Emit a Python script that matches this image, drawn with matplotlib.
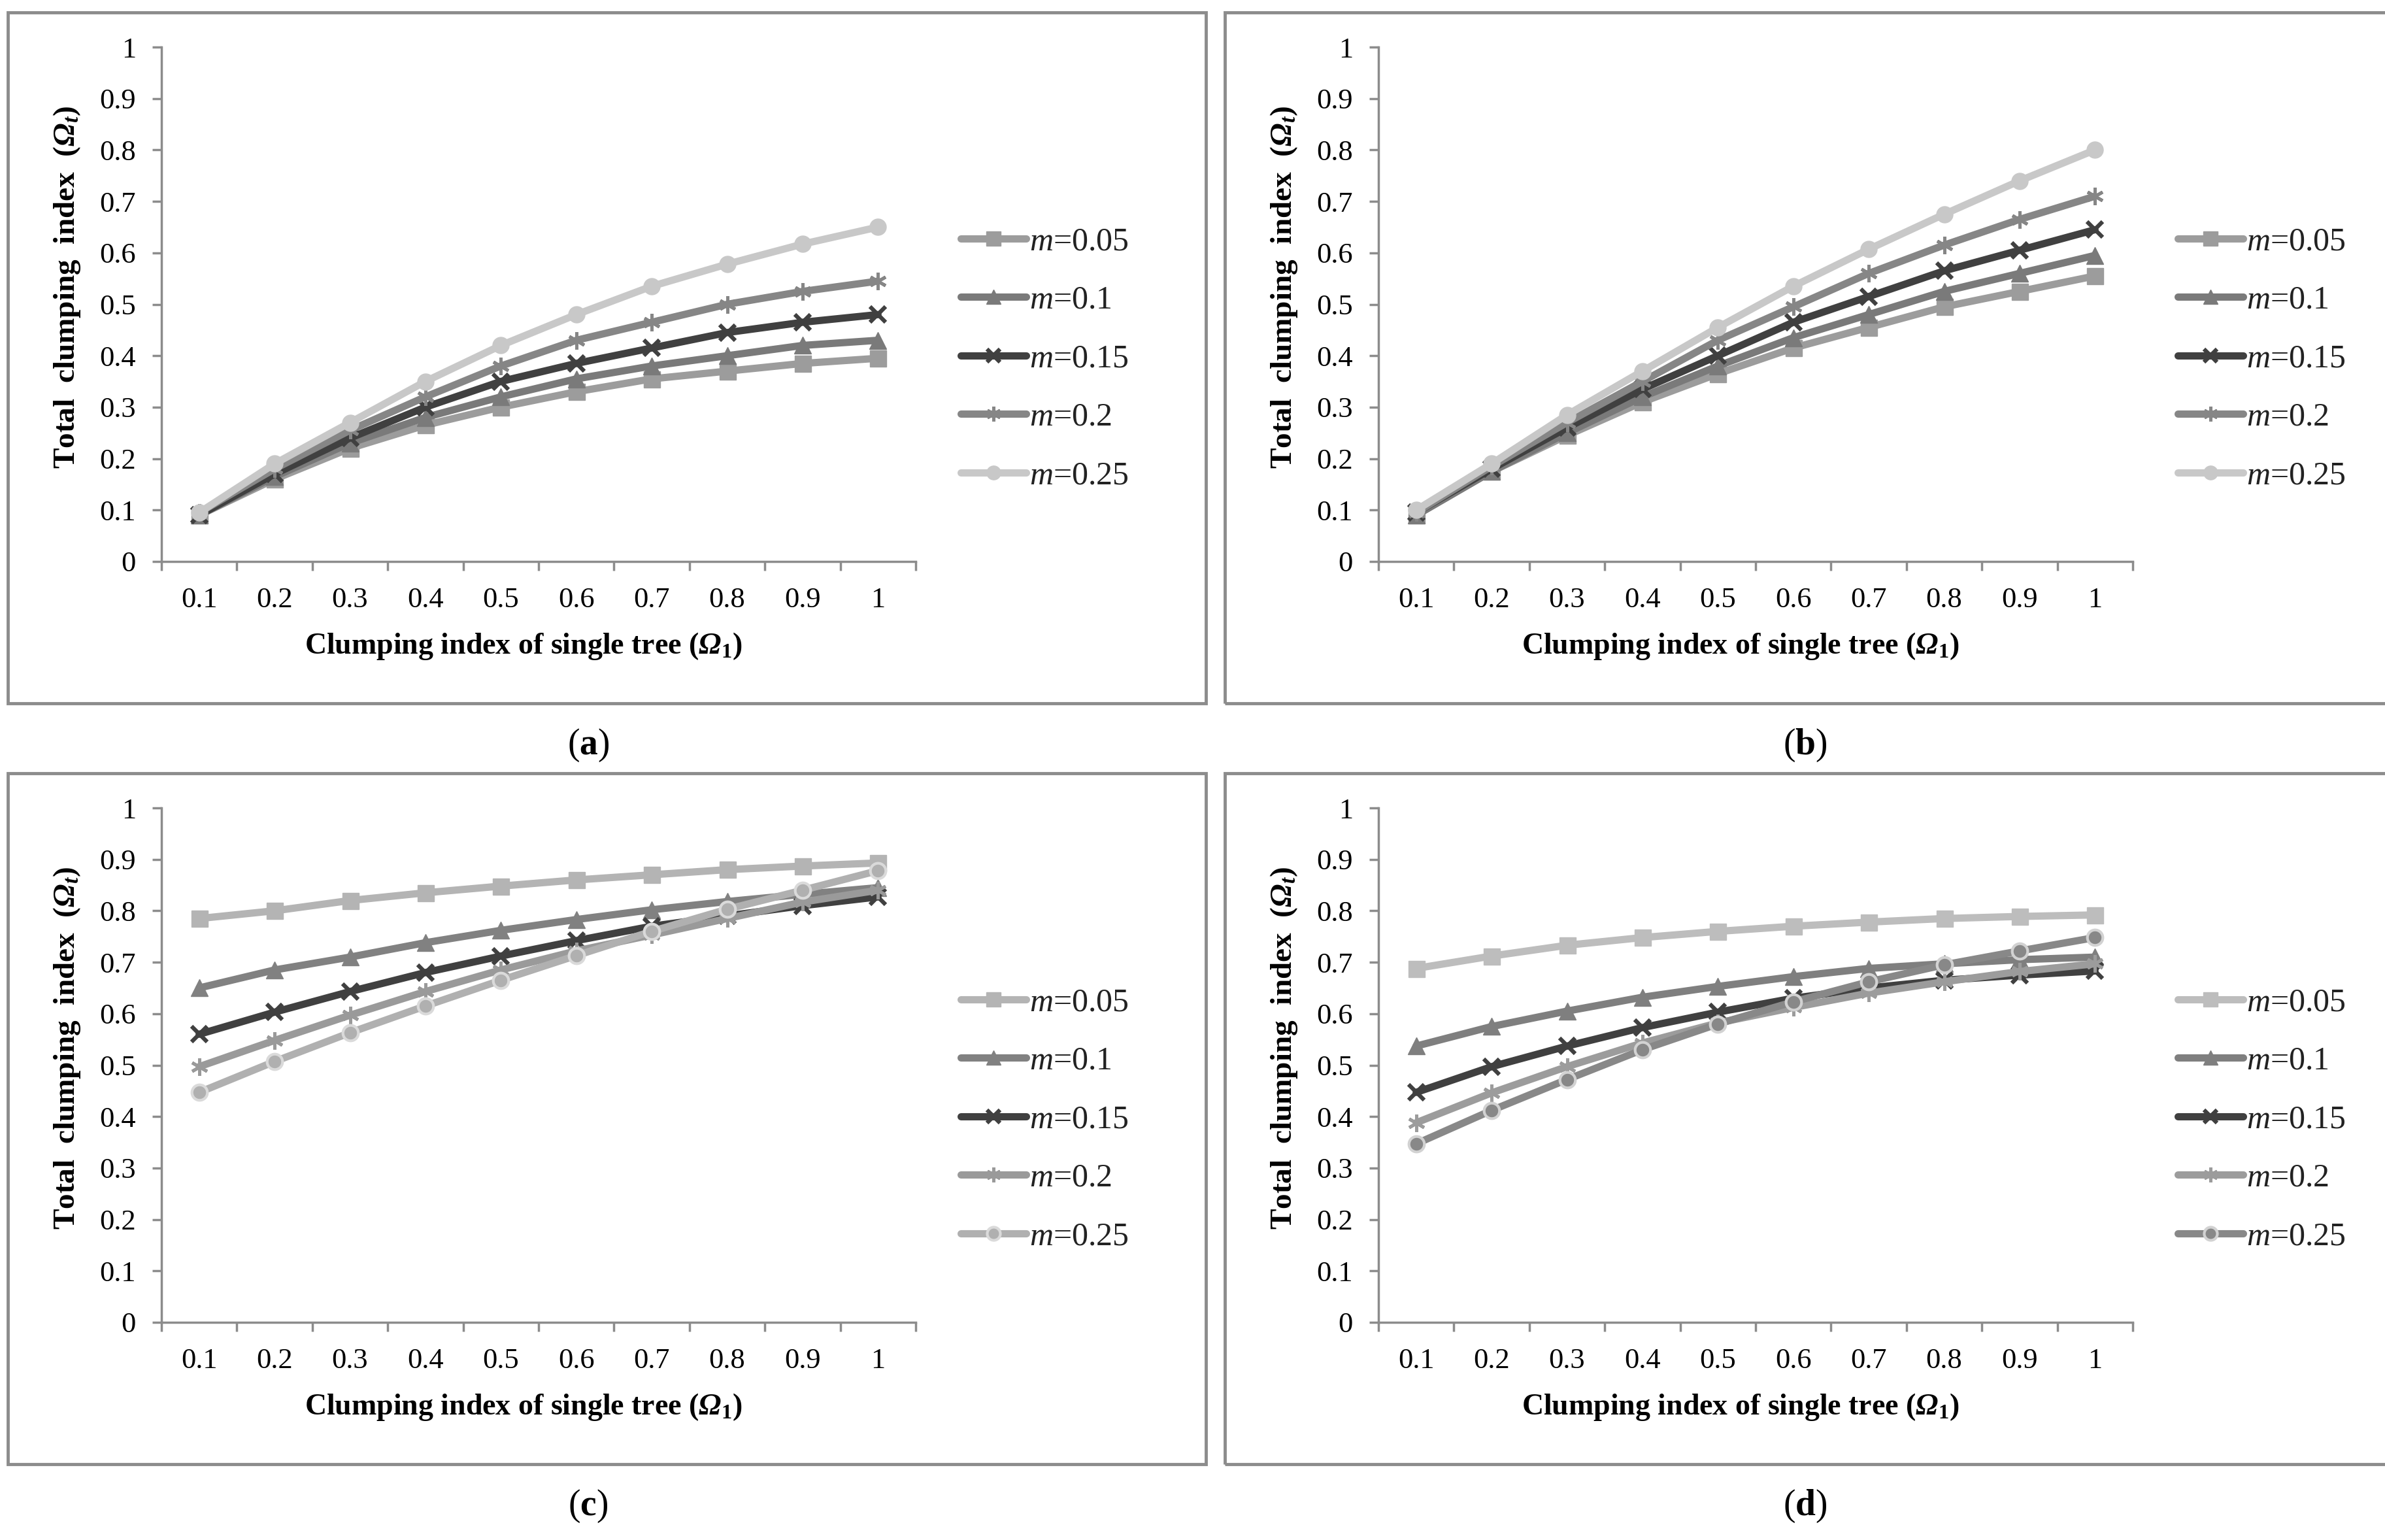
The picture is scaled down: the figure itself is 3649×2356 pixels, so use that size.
import numpy as np
import matplotlib
matplotlib.use("Agg")
import matplotlib.pyplot as plt
from matplotlib.patches import Rectangle
from matplotlib.ticker import FixedLocator, NullFormatter

plt.rcParams['font.family'] = ['Liberation Serif', 'DejaVu Serif']
plt.rcParams['mathtext.fontset'] = 'custom'
plt.rcParams['mathtext.rm'] = 'Liberation Serif'
plt.rcParams['mathtext.it'] = 'Liberation Serif:italic'
plt.rcParams['mathtext.bf'] = 'Liberation Serif:bold'
plt.rcParams['mathtext.bfit'] = 'Liberation Serif:bold:italic'

# categorias del eje x (omega 1)
x_labels = ['0.1', '0.2', '0.3', '0.4', '0.5', '0.6', '0.7', '0.8', '0.9', '1']
y_ticks = [0, 0.1, 0.2, 0.3, 0.4, 0.5, 0.6, 0.7, 0.8, 0.9, 1]
y_ticklabels = ['0', '0.1', '0.2', '0.3', '0.4', '0.5', '0.6', '0.7', '0.8', '0.9', '1']
m_labels = [r'$\mathit{m}$=0.05', r'$\mathit{m}$=0.1', r'$\mathit{m}$=0.15',
            r'$\mathit{m}$=0.2', r'$\mathit{m}$=0.25']

# panel (a)
a_m005 = [0.09, 0.16, 0.22, 0.265, 0.30, 0.33, 0.355, 0.37, 0.385, 0.395]
a_m010 = [0.09, 0.165, 0.23, 0.28, 0.32, 0.355, 0.38, 0.40, 0.42, 0.43]
a_m015 = [0.09, 0.17, 0.24, 0.30, 0.35, 0.385, 0.415, 0.445, 0.465, 0.48]
a_m020 = [0.095, 0.18, 0.255, 0.32, 0.38, 0.43, 0.465, 0.50, 0.525, 0.545]
a_m025 = [0.095, 0.19, 0.27, 0.35, 0.42, 0.48, 0.535, 0.578, 0.617, 0.65]

# panel (b)
b_m005 = [0.09, 0.175, 0.245, 0.31, 0.365, 0.415, 0.455, 0.495, 0.525, 0.555]
b_m010 = [0.09, 0.175, 0.25, 0.32, 0.38, 0.435, 0.48, 0.525, 0.56, 0.595]
b_m015 = [0.095, 0.18, 0.26, 0.335, 0.40, 0.465, 0.515, 0.565, 0.605, 0.645]
b_m020 = [0.095, 0.185, 0.27, 0.35, 0.43, 0.495, 0.56, 0.615, 0.665, 0.71]
b_m025 = [0.10, 0.19, 0.285, 0.37, 0.455, 0.535, 0.607, 0.675, 0.74, 0.80]

# panel (c)
c_m005 = [0.785, 0.80, 0.82, 0.835, 0.848, 0.86, 0.87, 0.88, 0.887, 0.893]
c_m010 = [0.65, 0.685, 0.71, 0.738, 0.762, 0.783, 0.802, 0.818, 0.832, 0.845]
c_m015 = [0.56, 0.603, 0.643, 0.68, 0.712, 0.742, 0.77, 0.79, 0.81, 0.827]
c_m020 = [0.497, 0.548, 0.597, 0.643, 0.685, 0.722, 0.753, 0.785, 0.817, 0.84]
c_m025 = [0.447, 0.507, 0.563, 0.615, 0.665, 0.713, 0.76, 0.803, 0.84, 0.878]

# panel (d)
d_m005 = [0.688, 0.712, 0.733, 0.748, 0.76, 0.77, 0.778, 0.785, 0.789, 0.792]
d_m010 = [0.537, 0.575, 0.605, 0.632, 0.653, 0.672, 0.688, 0.697, 0.705, 0.71]
d_m015 = [0.447, 0.497, 0.537, 0.573, 0.603, 0.63, 0.65, 0.665, 0.675, 0.683]
d_m020 = [0.388, 0.446, 0.497, 0.543, 0.582, 0.612, 0.64, 0.662, 0.682, 0.697]
d_m025 = [0.347, 0.412, 0.472, 0.53, 0.58, 0.623, 0.662, 0.695, 0.722, 0.748]

# estilos: (color linea, marcador, tamano, color borde marcador, grosor borde)
estilo_ab = [('#9c9c9c', 's', 18, '#9c9c9c', 1),
             ('#7a7a7a', '^', 19, '#7a7a7a', 1),
             ('#404040', 'x', 17, '#404040', 4.5),
             ('#868686', (6, 2, 0), 19, '#868686', 3.5),
             ('#c8c8c8', 'o', 18, '#c8c8c8', 1)]
estilo_c = [('#b4b4b4', 's', 18, '#b4b4b4', 1),
            ('#818181', '^', 19, '#818181', 1),
            ('#404040', 'x', 17, '#404040', 4.5),
            ('#9a9a9a', (6, 2, 0), 19, '#9a9a9a', 3.5),
            ('#b0b0b0', 'o', 17, '#dadada', 3)]
estilo_d = [('#bdbdbd', 's', 18, '#bdbdbd', 1),
            ('#7f7f7f', '^', 19, '#7f7f7f', 1),
            ('#404040', 'x', 17, '#404040', 4.5),
            ('#9c9c9c', (6, 2, 0), 19, '#9c9c9c', 3.5),
            ('#888888', 'o', 17, '#d2d2d2', 3)]

W, H = 3649, 2356
fig = plt.figure(figsize=(W / 100, H / 100), dpi=100)
GRIS = '#8c8c8c'


def panel(left_px, top_px, datos, estilos, letra):
    # left_px / top_px: esquina del area de dibujo en pixeles
    ax = fig.add_axes([left_px / W, 1 - (top_px + 787) / H, 1154 / W, 787 / H])
    x = np.arange(len(x_labels))
    lineas = []
    for serie, (col, mk, ms, mec, mew), lab in zip(datos, estilos, m_labels):
        ln, = ax.plot(x, serie, color=col, lw=8, marker=mk, ms=ms, mfc=col, mec=mec,
                      mew=mew, label=lab, solid_capstyle='round', solid_joinstyle='round')
        lineas.append(ln)
    ax.set_xlim(-0.5, 9.5)
    ax.set_ylim(0, 1)
    ax.set_yticks(y_ticks)
    ax.set_yticklabels(y_ticklabels)
    ax.xaxis.set_major_locator(FixedLocator(np.arange(-0.5, 10, 1)))
    ax.xaxis.set_major_formatter(NullFormatter())
    ax.set_xticks(x, x_labels, minor=True)
    for s in ['top', 'right']:
        ax.spines[s].set_visible(False)
    for s in ['left', 'bottom']:
        ax.spines[s].set_color(GRIS)
        ax.spines[s].set_linewidth(2.5)
    ax.tick_params(axis='y', which='major', length=10, width=2.5, color=GRIS,
                   labelsize=32, pad=18)
    ax.tick_params(axis='x', which='major', length=10, width=2.5, color=GRIS)
    ax.tick_params(axis='x', which='minor', length=0, labelsize=32, pad=28)
    ax.set_ylabel(r'Total  clumping  index  ($\mathbfit{Ω}_{\mathbfit{t}}$)',
                  fontsize=34, fontweight='bold')
    ax.yaxis.set_label_coords(-0.105, 0.533)
    ax.set_xlabel(r'Clumping index of single tree ($\mathbfit{Ω}_{\mathbf{1}}$)',
                  fontsize=33, fontweight='bold')
    ax.xaxis.set_label_coords(0.48, -0.135)

    leg = ax.legend(handles=lineas, loc='center left',
                    bbox_to_anchor=((left_px + 1223) / W, 1 - (top_px + 477) / H),
                    bbox_transform=fig.transFigure, frameon=False, fontsize=36,
                    handlelength=2.0, handletextpad=0.1, labelspacing=0.86,
                    borderpad=0, borderaxespad=0, markerscale=0.85)
    for t in leg.get_texts():
        t.set_color('#222222')

    # recuadro y etiqueta del panel
    bx0 = left_px - 235
    by0 = top_px - 53
    fig.add_artist(Rectangle((bx0 / W, 1 - (by0 + 1057) / H), 1833 / W, 1057 / H,
                             transform=fig.transFigure, fill=False, ec=GRIS, lw=3.5))
    fig.text((left_px + 653) / W, 1 - (top_px + 1068) / H,
             '(' + r'$\mathbf{' + letra + '}$' + ')', fontsize=40,
             ha='center', va='center')
    return ax


panel(247, 72, [a_m005, a_m010, a_m015, a_m020, a_m025], estilo_ab, 'a')
panel(2109, 72, [b_m005, b_m010, b_m015, b_m020, b_m025], estilo_ab, 'b')
panel(247, 1236, [c_m005, c_m010, c_m015, c_m020, c_m025], estilo_c, 'c')
panel(2109, 1236, [d_m005, d_m010, d_m015, d_m020, d_m025], estilo_d, 'd')

fig.savefig('out.png', dpi=100, facecolor='white')
